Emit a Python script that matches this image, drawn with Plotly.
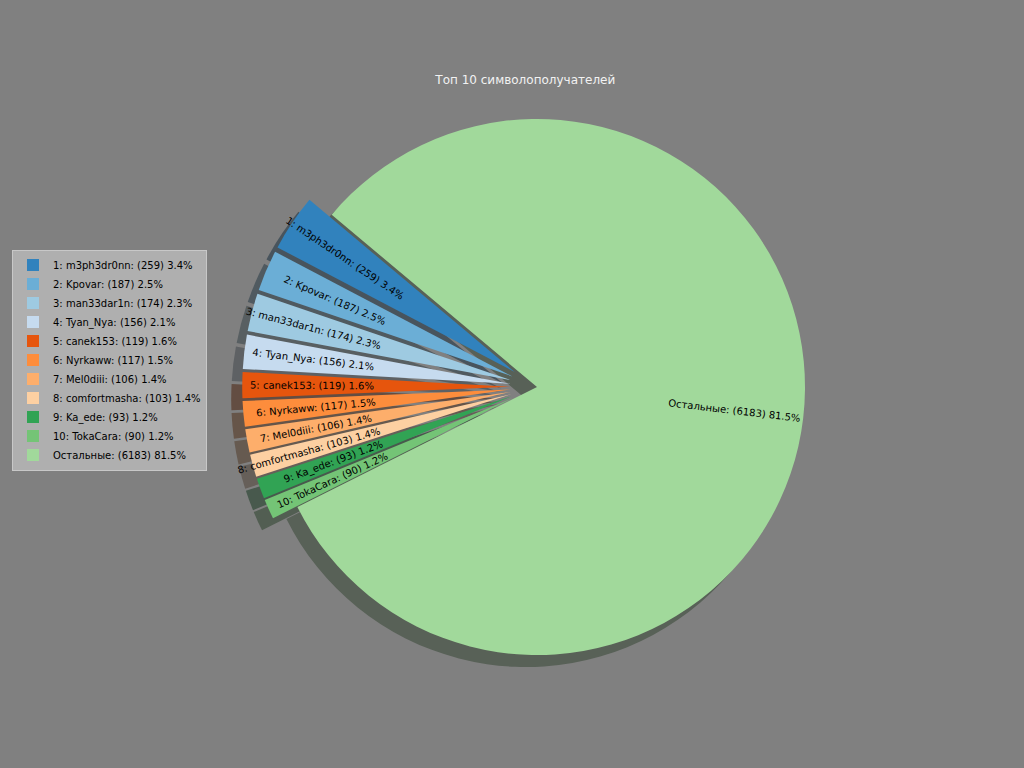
import math
import plotly.graph_objects as go

# топ получателей символов
names = ['m3ph3dr0nn', 'Kpovar', 'man33dar1n', 'Tyan_Nya', 'canek153',
         'Nyrkaww', 'Mel0diii', 'comfortmasha', 'Ka_ede', 'TokaCara']
counts = [259, 187, 174, 156, 119, 117, 106, 103, 93, 90]
others = 6183

colors = ['#3182bd', '#6baed6', '#9ecae1', '#c6dbef', '#e6550d', '#fd8d3c',
          '#fdae6b', '#fdd0a2', '#31a354', '#74c476', '#a1d99b']

values = counts + [others]
total = sum(values)
labels = [f'{i + 1}: {n}: ({c}) {c / total * 100:.1f}%' for i, (n, c) in enumerate(zip(names, counts))]
labels.append(f'Остальные: ({others}) {others / total * 100:.1f}%')
pull = [0.1] * len(counts) + [0]

start_angle = 140  # как startangle в matplotlib, против часовой
label_dist = 0.5   # внутренний край подписи, доля радиуса


def shade(hx):
    # тень как в matplotlib: цвет * 0.3, alpha 0.5
    r, g, b = (int(hx[k:k + 2], 16) for k in (1, 3, 5))
    return f'rgba({r * 0.3:.0f},{g * 0.3:.0f},{b * 0.3:.0f},0.5)'


W, H = 1024, 768
cx, cy, rad = 537, 387, 268
half = rad * (1 + max(pull))
dom_x = [(cx - half) / W, (cx + half) / W]
dom_y = [(H - cy - half) / H, (H - cy + half) / H]
sx, sy = -11 / W, -12 / H

# plotly при counterclockwise начинает первый сектор с rotation + его угол
rot = (90 - start_angle) - 360 * values[0] / total

fig = go.Figure()
fig.add_trace(go.Pie(
    labels=[f's{i}' for i in range(len(values))], values=values, sort=False,
    direction='counterclockwise', rotation=rot, pull=pull,
    marker=dict(colors=[shade(c) for c in colors], line=dict(width=0)),
    textinfo='none', hoverinfo='skip', showlegend=False,
    domain=dict(x=[dom_x[0] + sx, dom_x[1] + sx], y=[dom_y[0] + sy, dom_y[1] + sy]),
))
fig.add_trace(go.Pie(
    labels=labels, values=values, sort=False,
    direction='counterclockwise', rotation=rot, pull=pull,
    marker=dict(colors=colors, line=dict(width=0)),
    textinfo='none', hoverinfo='label',
    domain=dict(x=dom_x, y=dom_y),
))

# подписи секторов, повернутые по радиусу (как rotatelabels)
cum = 0
for lab, v, p in zip(labels, values, pull):
    theta = start_angle + 360 * (cum + v / 2) / total
    cum += v
    t = math.radians(theta)
    text_w = len(lab) * 5.6
    dist = (p + label_dist) * rad + text_w / 2
    px_ = cx + dist * math.cos(t)
    py_ = cy - dist * math.sin(t)
    a = theta % 360
    r_ccw = a - 180 if 90 < a < 270 else (a - 360 if a >= 270 else a)
    fig.add_annotation(x=px_ / W, y=1 - py_ / H, xref='paper', yref='paper',
                       text=lab, showarrow=False, textangle=-r_ccw,
                       xanchor='center', yanchor='middle',
                       font=dict(color='black', size=10, family='DejaVu Sans'))

fig.update_layout(
    width=W, height=H,
    margin=dict(l=0, r=0, t=0, b=0),
    paper_bgcolor='#808080', plot_bgcolor='#808080',
    title=dict(text='Топ 10 символополучателей', x=0.513, y=1 - 80 / H,
               xanchor='center', yanchor='middle',
               font=dict(color='#f2f2f2', size=12, family='DejaVu Sans')),
    legend=dict(x=12 / W, y=1 - 360 / H, xanchor='left', yanchor='middle',
                bgcolor='#afafaf', bordercolor='#c8c8c8', borderwidth=1,
                font=dict(color='black', size=10, family='DejaVu Sans'),
                tracegroupgap=0),
)

fig.write_html('out.html', config={'displayModeBar': False},
               post_script="document.body.style.margin='0px';")
